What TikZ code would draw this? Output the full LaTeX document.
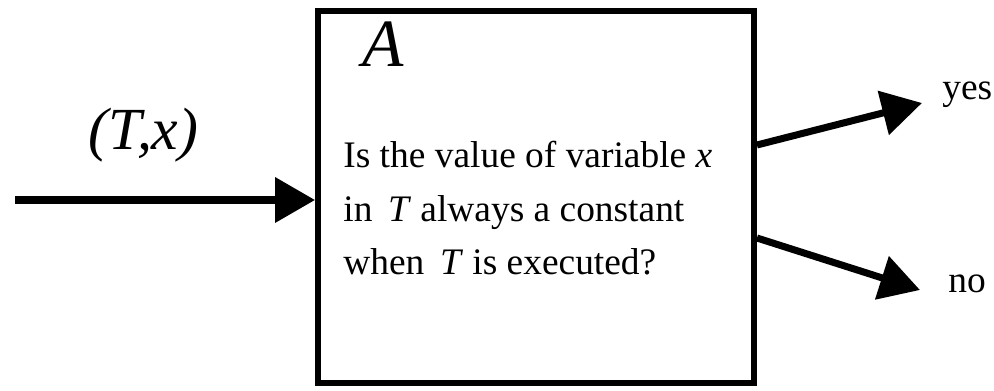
\documentclass[tikz,border=0pt]{standalone}
\usepackage{fontspec}
\setmainfont{Liberation Serif}
\usetikzlibrary{arrows.meta}
\begin{document}
\begin{tikzpicture}[x=0.02cm, y=-0.02cm,
  flow/.style={line width=4pt, -{Triangle[length=0.8cm, width=0.88cm]}},
  body/.style={font=\fontsize{21.3}{30.6}\selectfont, inner sep=0pt}]
\useasboundingbox (0,0) rectangle (994,391);
\node[draw, line width=3.4pt, minimum width=8.72cm, minimum height=7.44cm] (box) at (536,197) {};
\node[inner sep=0pt, anchor=base west, font=\fontsize{38.5}{40}\selectfont\itshape] (name) at (362,67) {A};
\node[body, align=left, anchor=base west] (question) at (343,275) {Is the value of variable \textit{x}\\in \,\textit{T} always a constant\\when \,\textit{T} is executed?};
\node[inner sep=0pt, anchor=base west, font=\fontsize{34}{36}\selectfont\itshape] (input) at (88,150) {(T,x)};
\node[body, anchor=base west] (yes) at (942,100) {yes};
\node[body, anchor=base west] (no) at (948,293) {no};

\coordinate (start) at (15,200);
\coordinate (yestip) at (922,103);
\coordinate (notip) at (920,290);

\draw[flow] (start) -- (start -| box.west);
\draw[flow] ([yshift=1.04cm]box.east) -- (yestip);
\draw[flow] ([yshift=-0.82cm]box.east) -- (notip);
\end{tikzpicture}
\end{document}
